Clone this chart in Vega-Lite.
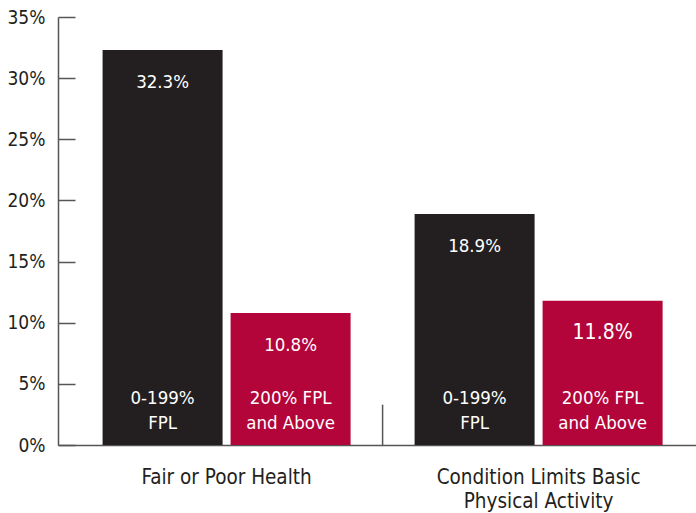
{
  "$schema": "https://vega.github.io/schema/vega-lite/v6.json",
  "width": 638,
  "height": 428,
  "autosize": "none",
  "padding": {"left": 58, "top": 17, "right": 0, "bottom": 68},
  "background": "white",
  "config": {
    "view": {"stroke": null},
    "font": "DejaVu Sans Condensed, sans-serif"
  },
  "data": {
    "values": [
      {"group": "Fair or Poor Health", "income": "0-199% FPL", "sub": "0-199%\nFPL", "value": 0.323},
      {"group": "Fair or Poor Health", "income": "200% FPL and Above", "sub": "200% FPL\nand Above", "value": 0.108},
      {"group": "Condition Limits Basic\nPhysical Activity", "income": "0-199% FPL", "sub": "0-199%\nFPL", "value": 0.189},
      {"group": "Condition Limits Basic\nPhysical Activity", "income": "200% FPL and Above", "sub": "200% FPL\nand Above", "value": 0.118}
    ]
  },
  "encoding": {
    "x": {
      "field": "group",
      "type": "nominal",
      "sort": null,
      "scale": {"paddingInner": 0, "paddingOuter": 0.0224, "align": 0.9},
      "axis": {
        "title": null,
        "labelAngle": 0,
        "ticks": false,
        "domainColor": "#555555",
        "domainWidth": 1.5,
        "labelColor": "#231f20",
        "labelFontSize": 20.5,
        "labelPadding": 22,
        "labelLineHeight": 24,
        "labelLimit": 0,
        "labelExpr": "split(datum.label, '\\n')"
      }
    },
    "xOffset": {
      "field": "income",
      "type": "nominal",
      "sort": null,
      "scale": {"paddingInner": 0.0625, "paddingOuter": 0.25}
    }
  },
  "layer": [
    {
      "mark": {"type": "bar"},
      "encoding": {
        "y": {
          "field": "value",
          "type": "quantitative",
          "scale": {"domain": [0, 0.35], "nice": false},
          "axis": {
            "title": null,
            "values": [0, 0.05, 0.1, 0.15, 0.2, 0.25, 0.3, 0.35],
            "format": ".0%",
            "grid": false,
            "tickSize": -17,
            "tickColor": "#555555",
            "tickWidth": 1.5,
            "domainColor": "#555555",
            "domainWidth": 1.5,
            "labelPadding": 30,
            "labelFontSize": 19,
            "labelColor": "#231f20"
          }
        },
        "color": {
          "field": "income",
          "type": "nominal",
          "sort": null,
          "scale": {"range": ["#231f20", "#b3053a"]},
          "legend": null
        }
      }
    },
    {
      "mark": {"type": "text", "color": "white", "baseline": "middle", "dy": 32},
      "encoding": {
        "y": {"field": "value", "type": "quantitative"},
        "text": {"field": "value", "type": "quantitative", "format": ".1%"},
        "size": {"condition": {"test": "datum.value == 0.118", "value": 21}, "value": 18.5}
      }
    },
    {
      "mark": {"type": "text", "color": "white", "baseline": "middle", "dy": -47, "fontSize": 18.5, "lineBreak": "\n", "lineHeight": 25},
      "encoding": {
        "y": {"datum": 0},
        "text": {"field": "sub"}
      }
    },
    {
      "data": {"values": [{"group": "Condition Limits Basic\nPhysical Activity", "lo": 0, "hi": 0.033}]},
      "mark": {"type": "rule", "color": "#555555", "strokeWidth": 1.5},
      "encoding": {
        "x": {"field": "group", "type": "nominal", "bandPosition": 0},
        "xOffset": null,
        "y": {"field": "lo", "type": "quantitative"},
        "y2": {"field": "hi"}
      }
    }
  ]
}
